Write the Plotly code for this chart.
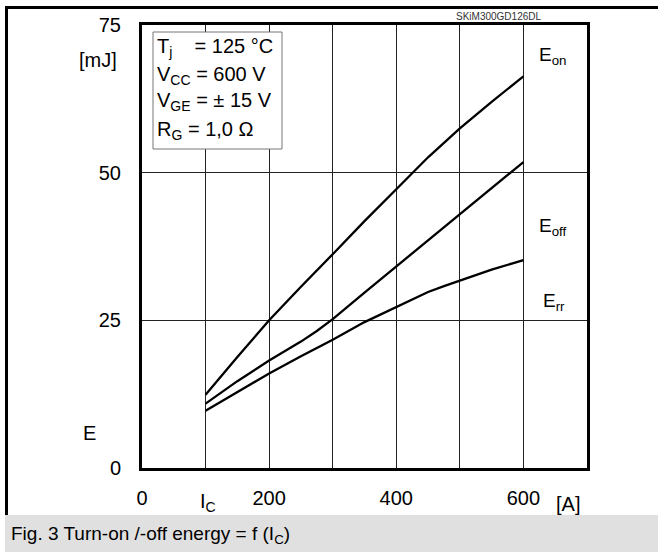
import plotly.graph_objects as go

# ---- data ----
ic_on = [100, 150, 200, 250, 300, 350, 400, 450, 500, 550, 600]
e_on = [12.4, 18.8, 25.0, 30.7, 36.2, 41.8, 47.2, 52.6, 57.5, 62.0, 66.3]

ic_off = [100, 150, 200, 250, 275, 300, 350, 400, 450, 500, 550, 600]
e_off = [10.9, 14.7, 18.2, 21.4, 23.2, 25.2, 29.7, 34.1, 38.6, 43.0, 47.4, 51.8]

ic_rr = [100, 150, 200, 250, 300, 350, 400, 450, 475, 500, 550, 600]
e_rr = [9.7, 12.9, 16.0, 18.9, 21.7, 24.7, 27.3, 29.8, 30.8, 31.7, 33.6, 35.2]

x_ticks = [0, 100, 200, 300, 400, 500, 600, 700]
x_ticktext = ["0", "", "200", "", "400", "", "600", ""]
y_ticks = [0, 25, 50, 75]
y_ticktext = ["0", "25", "50", "75"]

W, H = 658, 552
L, R, T, B = 142, 71, 25, 84
PW, PH = W - L - R, H - T - B
FONT = "Liberation Sans, Arial, sans-serif"


def px(x):
    return (x - L) / PW


def py(y):
    return (H - B - y) / PH


fig = go.Figure()
for xs, ys, nm in [(ic_on, e_on, "E_on"), (ic_off, e_off, "E_off"), (ic_rr, e_rr, "E_rr")]:
    fig.add_trace(go.Scatter(x=xs, y=ys, mode="lines", name=nm,
                             line=dict(color="black", width=2.3), showlegend=False))

shapes = [
    # outer frame
    dict(type="line", xref="paper", yref="paper", x0=px(5), x1=px(658), y0=py(7.5), y1=py(7.5),
         line=dict(color="black", width=3)),
    dict(type="line", xref="paper", yref="paper", x0=px(6.5), x1=px(6.5), y0=py(6), y1=py(515),
         line=dict(color="black", width=3)),
    # caption band
    dict(type="rect", xref="paper", yref="paper", x0=px(5), x1=px(660), y0=py(515), y1=py(555),
         fillcolor="#e0e0e0", line=dict(width=0), layer="below"),
    # condition box
    dict(type="rect", xref="paper", yref="paper", x0=px(153), x1=px(282), y0=py(32), y1=py(149),
         fillcolor="white", line=dict(color="#777777", width=1)),
]

ann = []


def add(text, x, y, size=20, xanchor="center", yanchor="middle", color="black"):
    ann.append(dict(text=text, xref="paper", yref="paper", x=px(x), y=py(y), showarrow=False,
                    xanchor=xanchor, yanchor=yanchor, font=dict(size=size, color=color, family=FONT)))


add("SKiM300GD126DL", 498, 16, size=10, color="#333333")
add("[mJ]", 98, 60)
add("E", 89, 433)
add("I<sub>C</sub>", 208, 502)
add("[A]", 568, 504)
add("E<sub>on</sub>", 552, 56, size=19)
add("E<sub>off</sub>", 553, 227, size=19)
add("E<sub>rr</sub>", 554, 302, size=19)
add("T<sub>j</sub>    = 125 °C", 155, 47, xanchor="left")
add("V<sub>CC</sub> = 600 V", 155, 75, xanchor="left")
add("V<sub>GE</sub> = ± 15 V", 155, 102, xanchor="left")
add("R<sub>G</sub> = 1,0 Ω", 155, 130, xanchor="left")
add("Fig. 3 Turn-on /-off energy = f (I<sub>C</sub>)", 9, 535, size=19, xanchor="left")

fig.update_layout(
    width=W, height=H, autosize=False,
    margin=dict(l=L, r=R, t=T, b=B, pad=0),
    paper_bgcolor="white", plot_bgcolor="white",
    shapes=shapes, annotations=ann,
    font=dict(family=FONT, size=20, color="black"),
    xaxis=dict(range=[0, 700], tickvals=x_ticks, ticktext=x_ticktext, showgrid=True,
               gridcolor="#222222", gridwidth=1, showline=True, linecolor="black", linewidth=3,
               mirror=True, ticks="", zeroline=False, tickfont=dict(size=20),
               ticklabelstandoff=10, fixedrange=True),
    yaxis=dict(range=[0, 75], tickvals=y_ticks, ticktext=y_ticktext, showgrid=True,
               gridcolor="#222222", gridwidth=1, showline=True, linecolor="black", linewidth=3,
               mirror=True, ticks="", zeroline=False, tickfont=dict(size=20),
               ticklabelstandoff=14, fixedrange=True),
)

fig.write_html("out.html", config={"displayModeBar": False})
